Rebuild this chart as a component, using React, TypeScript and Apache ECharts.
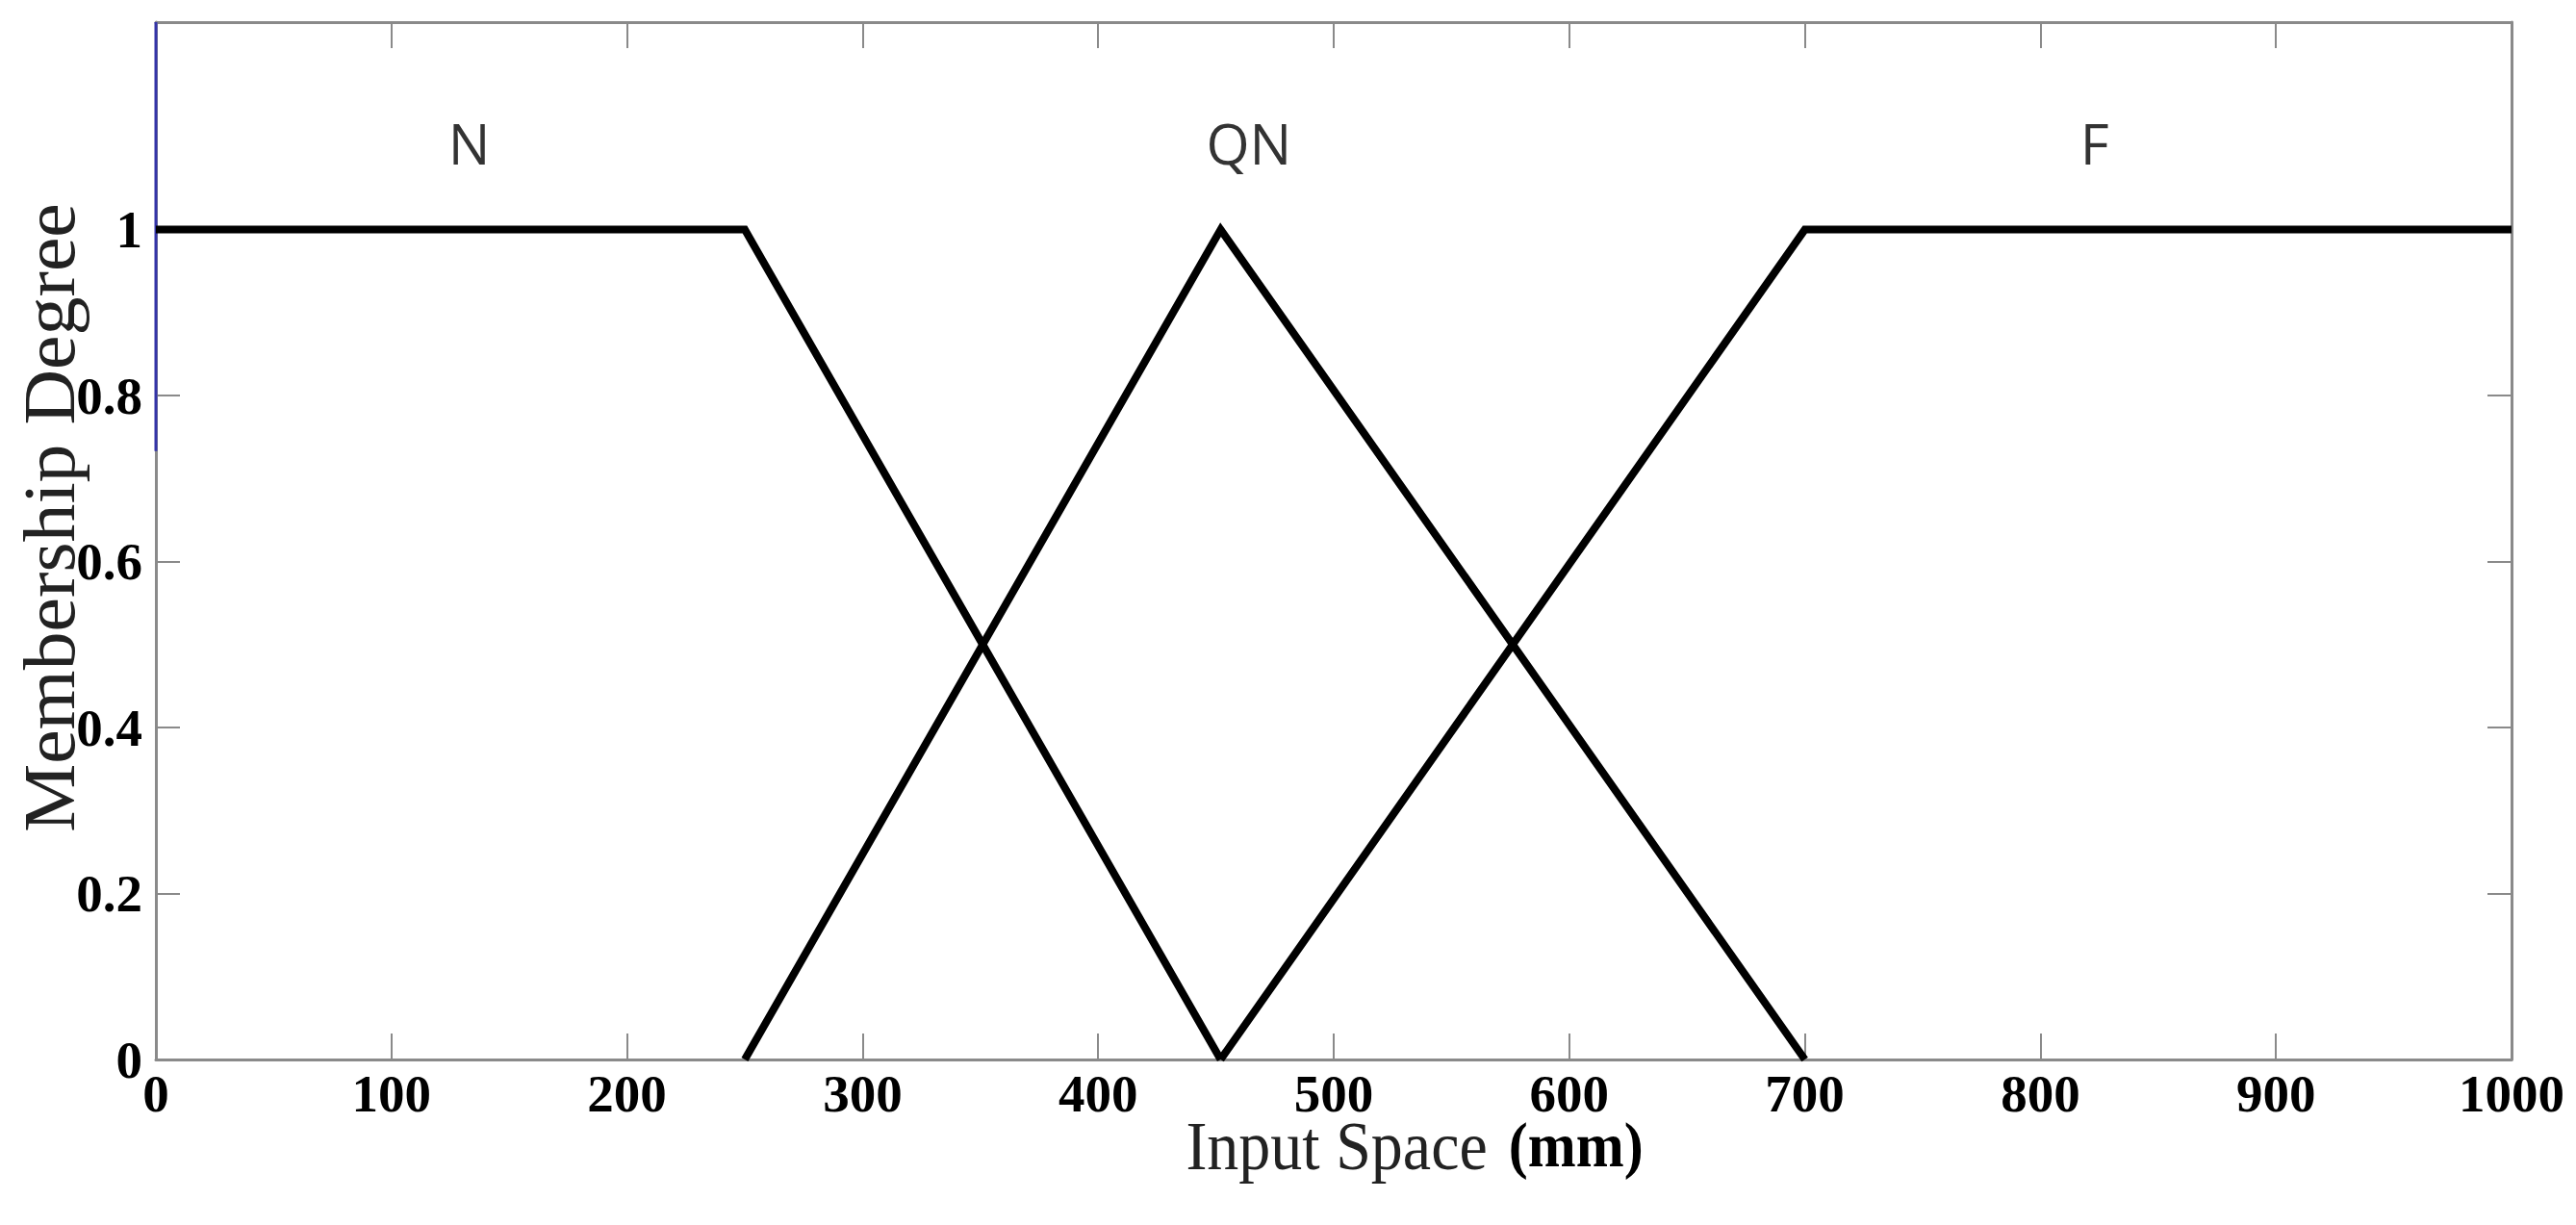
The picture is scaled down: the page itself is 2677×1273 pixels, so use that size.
import React, { useEffect, useRef } from "react";
import * as echarts from "echarts";

const xTicks = [0, 100, 200, 300, 400, 500, 600, 700, 800, 900, 1000];
const yTicks = [0, 0.2, 0.4, 0.6, 0.8, 1];
const innerXTicks = [100, 200, 300, 400, 500, 600, 700, 800, 900];
const innerYTicks = [0.2, 0.4, 0.6, 0.8];

const nX = [0, 250, 452];
const nY = [1, 1, 0];
const qnX = [250, 452, 700];
const qnY = [0, 1, 0];
const fX = [452, 700, 1000];
const fY = [0, 1, 1];

const termNames = ["N", "QN", "F"];
const termLabelX = [133, 464, 823];
const termLabelY = 1.105;

const blueEdgeY = [0.733, 1.25];

const zip = (xs: number[], ys: number[]) => xs.map((x, i) => [x, ys[i]]);

const AXIS_GRAY = "#8a8a8a";
const SERIF = "'Liberation Serif', 'Times New Roman', serif";

export default function App() {
  const ref = useRef<HTMLDivElement>(null);

  useEffect(() => {
    document.body.style.margin = "0";
    if (!ref.current) return;
    const chart = echarts.init(ref.current, null, { renderer: "svg" });

    const baseX = {
      type: "value" as const,
      min: 0,
      max: 1000,
      interval: 100,
      splitLine: { show: false },
      axisLine: { onZero: false, lineStyle: { color: AXIS_GRAY, width: 3 } },
    };
    const baseY = {
      type: "value" as const,
      min: 0,
      max: 1.25,
      splitLine: { show: false },
      axisLine: { onZero: false, lineStyle: { color: AXIS_GRAY, width: 3 } },
    };

    const lineSeries = (name: string, xs: number[], ys: number[]) => ({
      name,
      type: "line",
      data: zip(xs, ys),
      symbol: "none",
      lineStyle: { color: "#000", width: 8, join: "miter", cap: "butt" },
      z: 5,
    });

    chart.setOption({
      animation: false,
      backgroundColor: "#ffffff",
      grid: { left: 162, right: 67, top: 23, bottom: 172 },
      xAxis: [
        {
          ...baseX,
          position: "bottom",
          axisTick: {
            inside: true,
            length: 27,
            customValues: innerXTicks,
            lineStyle: { color: AXIS_GRAY, width: 2 },
          },
          axisLabel: {
            customValues: xTicks,
            formatter: (v: number) => String(v),
            fontFamily: SERIF,
            fontWeight: "bold",
            fontSize: 55,
            color: "#000",
            margin: 8,
          },
        },
        {
          ...baseX,
          position: "top",
          axisTick: {
            inside: true,
            length: 27,
            customValues: innerXTicks,
            lineStyle: { color: AXIS_GRAY, width: 2 },
          },
          axisLabel: { show: false },
        },
      ],
      yAxis: [
        {
          ...baseY,
          position: "left",
          axisTick: {
            inside: true,
            length: 25,
            customValues: innerYTicks,
            lineStyle: { color: AXIS_GRAY, width: 2 },
          },
          axisLabel: {
            customValues: yTicks,
            formatter: (v: number) => String(v),
            fontFamily: SERIF,
            fontWeight: "bold",
            fontSize: 55,
            color: "#000",
            margin: 14,
          },
        },
        {
          ...baseY,
          position: "right",
          axisTick: {
            inside: true,
            length: 25,
            customValues: innerYTicks,
            lineStyle: { color: AXIS_GRAY, width: 2 },
          },
          axisLabel: { show: false },
        },
      ],
      series: [
        lineSeries("N", nX, nY),
        lineSeries("QN", qnX, qnY),
        lineSeries("F", fX, fY),
        {
          name: "edge",
          type: "line",
          data: zip([0, 0], blueEdgeY),
          symbol: "none",
          clip: false,
          lineStyle: { color: "#3333a8", width: 3 },
          z: 4,
        },
        {
          name: "terms",
          type: "scatter",
          symbolSize: 0,
          data: termLabelX.map((x, i) => ({ value: [x, termLabelY], name: termNames[i] })),
          label: {
            show: true,
            position: "inside",
            formatter: (p: any) => p.name,
            fontFamily: "'Open Sans', 'Noto Sans', sans-serif",
            fontSize: 58,
            color: "#000",
          },
          z: 6,
        },
      ],
      graphic: [
        {
          type: "text",
          x: 52,
          y: 538,
          rotation: Math.PI / 2,
          scaleX: 1.05,
          style: {
            text: "Membership Degree",
            fontFamily: SERIF,
            fontSize: 76,
            fill: "#222",
            align: "center",
            verticalAlign: "middle",
          },
        },
        {
          type: "text",
          x: 1470,
          y: 1190,
          scaleY: 1.1,
          style: {
            text: "{a|Input Space}{b|(mm)}",
            align: "center",
            verticalAlign: "middle",
            rich: {
              a: { fontFamily: SERIF, fontSize: 66, fill: "#222" },
              b: {
                fontFamily: SERIF,
                fontSize: 60,
                fontWeight: "bold",
                fill: "#000",
                padding: [0, 0, 0, 22],
              },
            },
          },
        },
      ],
    });

    return () => chart.dispose();
  }, []);

  return <div ref={ref} style={{ width: 2677, height: 1273 }} />;
}
